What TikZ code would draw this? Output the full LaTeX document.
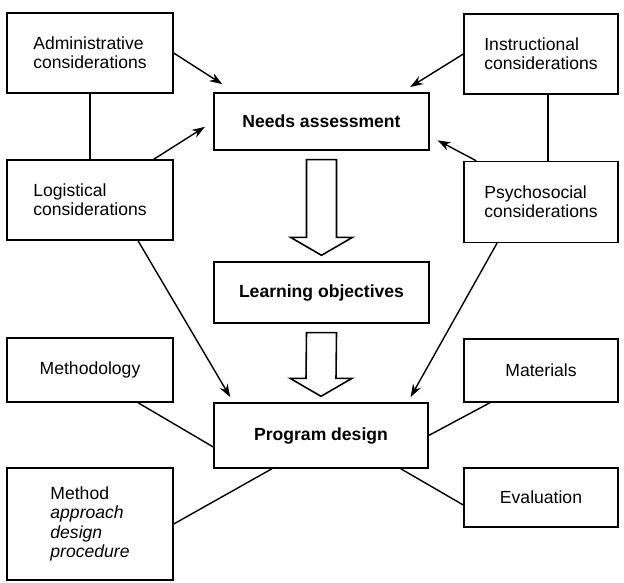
\documentclass[tikz,border=0pt]{standalone}
\usepackage{fontspec}
\setmainfont{Liberation Sans}
\usetikzlibrary{arrows.meta, calc}
\tikzset{
  box/.style={draw, line width=0.8pt, align=left, inner sep=0pt, font=\fontsize{10}{11}\selectfont},
  boldbox/.style={box, align=center, font=\fontsize{10}{11}\selectfont\bfseries},
  link/.style={line width=0.8pt},
  feed/.style={line width=0.8pt, -{Stealth[length=2.6mm,width=1.8mm]}},
  hollow/.style={line width=0.9pt, line join=miter}
}
% open block arrow from one box down to the next
\newcommand{\hollowarrow}[2]{%
  \draw[hollow] ($(#1.south)+(-15,-9)$) -- ($(#2.north)+(-15,24)$) -- ($(#2.north)+(-31,24)$)
    -- ($(#2.north)+(0,6)$) -- ($(#2.north)+(31,24)$) -- ($(#2.north)+(15,24)$)
    -- ($(#1.south)+(15,-9)$) -- cycle;}

\begin{document}
\begin{tikzpicture}[x=0.02cm, y=0.02cm]
\useasboundingbox (0,0) rectangle (624,-582);

% Considerations round the needs assessment
\node[box, minimum width=3.32cm, minimum height=1.6cm] (admin) at (90,-53) {Administrative\\considerations};
\node[box, minimum width=3.32cm, minimum height=1.6cm] (logist) at (90,-200) {Logistical\\considerations};
\node[box, minimum width=3.08cm, minimum height=1.6cm] (instr) at (541,-54) {Instructional\\considerations};
\node[box, minimum width=3.08cm, minimum height=1.62cm] (psycho) at (541,-202) {Psychosocial\\considerations};

% Main column
\node[boldbox, minimum width=4.3cm, minimum height=1.14cm] (needs) at (321.5,-121.5) {Needs assessment};
\node[boldbox, minimum width=4.3cm, minimum height=1.22cm] (learning) at (321.5,-292.5) {Learning objectives};
\node[boldbox, minimum width=4.28cm, minimum height=1.3cm] (program) at (321,-435.5) {Program design};

% Parts of the program design
\node[box, align=center, minimum width=3.32cm, minimum height=1.28cm] (methodology) at (90,-370) {Methodology};
\node[box, minimum width=3.32cm, minimum height=2.24cm] (method) at (90,-524) {Method\\\textit{approach}\\\textit{design}\\\textit{procedure}};
\node[box, align=center, minimum width=3.08cm, minimum height=1.26cm] (materials) at (541,-370.5) {Materials};
\node[box, align=center, minimum width=3.08cm, minimum height=1.18cm] (evaluation) at (541,-497.5) {Evaluation};

% Block arrows
\hollowarrow{needs}{learning}
\hollowarrow{learning}{program}

% Into the needs assessment
\draw[feed, shorten >=0.3cm] (admin.east) -- ($(needs.north west)!0.1!(needs.north east)$);
\draw[feed, shorten >=0.2cm] ([xshift=-0.4cm]logist.north east) -- (needs.west);
\draw[feed, shorten >=0.2cm] (instr.west) -- ([xshift=-0.56cm]needs.north east);
\draw[feed, shorten >=0.18cm] ([xshift=0.26cm]psycho.north west) -- ($(needs.east)!0.5!(needs.south east)$);

% Into the program design
\draw[feed, shorten >=0.12cm] ([xshift=0.96cm]logist.south) -- ([xshift=0.4cm]program.north west);
\draw[feed, shorten >=0.12cm] ([xshift=-0.88cm]psycho.south) -- ([xshift=-0.42cm]program.north east);

% Plain links
\draw[link] (admin.south) -- (logist.north);
\draw[link] ([xshift=0.14cm]instr.south) -- ([xshift=0.14cm]psycho.north);
\draw[link] ([xshift=0.96cm]methodology.south) -- ([yshift=-0.23cm]program.west);
\draw[link] (method.east) -- ([xshift=-0.98cm]program.south);
\draw[link] ([xshift=-1.02cm]materials.south) -- (program.east);
\draw[link] ([yshift=-0.15cm]evaluation.west) -- ([xshift=-0.56cm]program.south east);
\end{tikzpicture}
\end{document}
